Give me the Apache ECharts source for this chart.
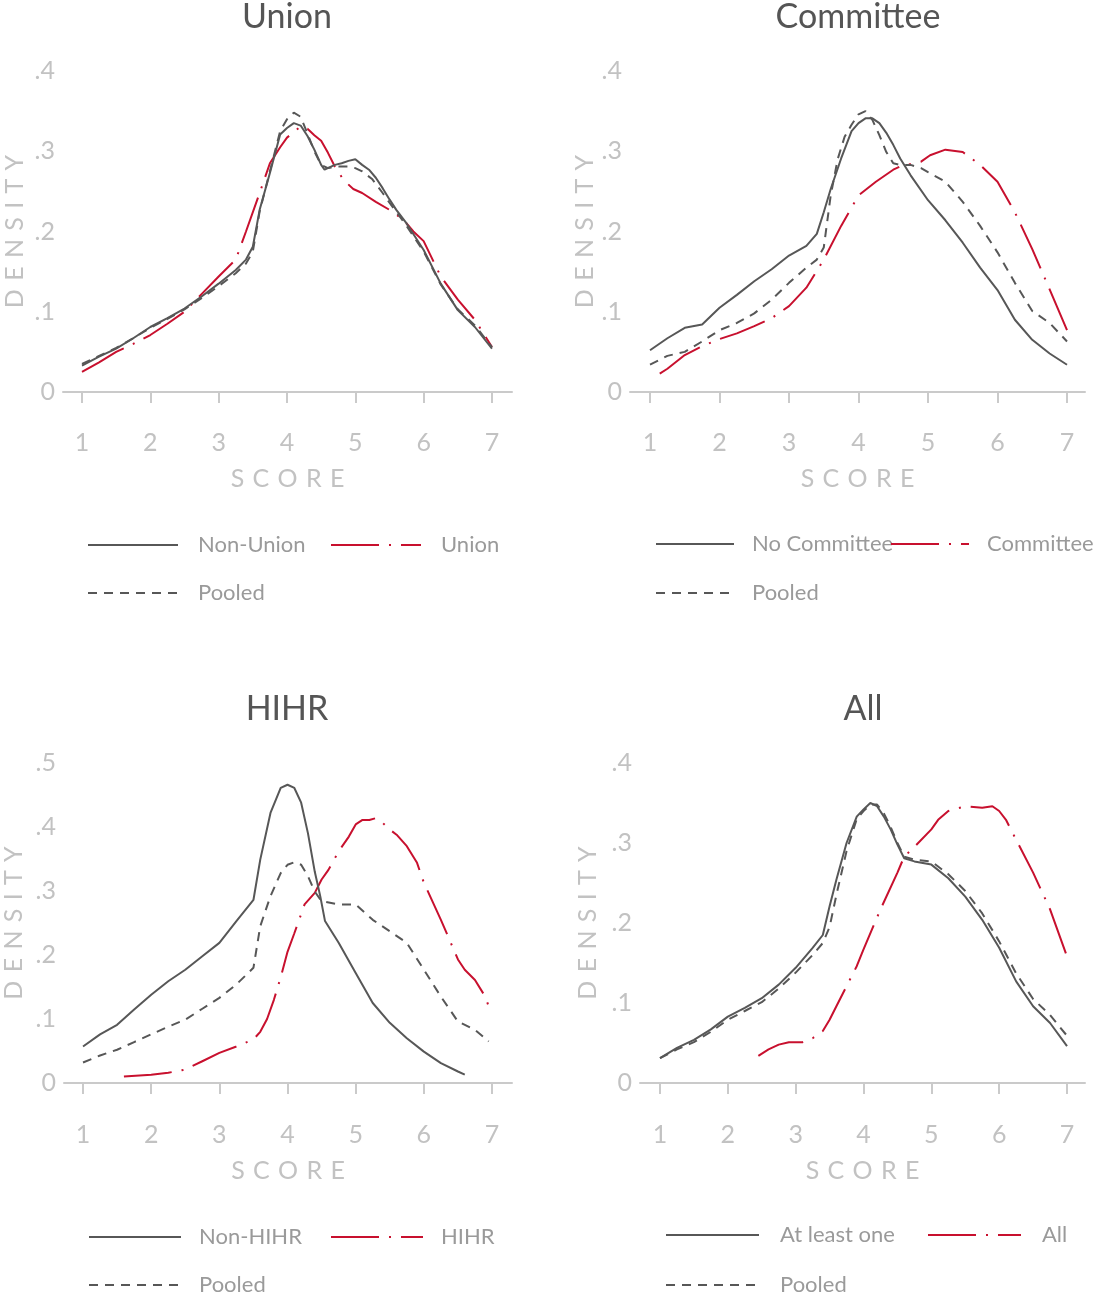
<!DOCTYPE html>
<html>
<head>
<meta charset="utf-8">
<script src="https://cdn.jsdelivr.net/npm/echarts@6/dist/echarts.min.js"></script>
<style>
  html, body { margin: 0; background: #fff; }
  #chart { width: 1094px; height: 1297px; }
</style>
</head>
<body>
<div id="chart"></div>
<script>
// x ticks shared by every panel
var scoreTicks = [1, 2, 3, 4, 5, 6, 7];

// Union panel
var unionNonUnion = [[1,0.033],[1.25,0.044],[1.5,0.054],[1.75,0.067],[2,0.081],[2.25,0.092],[2.5,0.104],[2.75,0.119],[3,0.135],[3.25,0.152],[3.4,0.165],[3.5,0.181],[3.6,0.227],[3.75,0.273],[3.9,0.321],[4,0.329],[4.1,0.335],[4.2,0.332],[4.3,0.319],[4.4,0.302],[4.5,0.283],[4.55,0.277],[4.7,0.283],[4.8,0.285],[4.9,0.288],[5,0.290],[5.1,0.283],[5.2,0.277],[5.3,0.267],[5.4,0.254],[5.5,0.240],[5.6,0.227],[5.75,0.210],[6,0.177],[6.25,0.135],[6.5,0.102],[6.75,0.081],[7,0.054]];
var unionUnion = [[1,0.025],[1.25,0.037],[1.5,0.050],[1.75,0.060],[2,0.071],[2.25,0.085],[2.5,0.100],[2.75,0.122],[3,0.144],[3.25,0.165],[3.4,0.200],[3.6,0.248],[3.75,0.285],[3.9,0.305],[4,0.317],[4.2,0.331],[4.3,0.328],[4.4,0.320],[4.5,0.313],[4.6,0.298],[4.7,0.281],[4.83,0.264],[4.97,0.253],[5.1,0.248],[5.3,0.237],[5.5,0.227],[5.7,0.215],[5.85,0.200],[6,0.188],[6.25,0.144],[6.5,0.115],[6.75,0.090],[7,0.056]];
var unionPooled = [[1,0.035],[1.25,0.045],[1.5,0.055],[1.75,0.067],[2,0.080],[2.25,0.091],[2.5,0.103],[2.75,0.117],[3,0.132],[3.25,0.148],[3.4,0.160],[3.5,0.175],[3.6,0.225],[3.75,0.275],[3.9,0.325],[4,0.340],[4.1,0.348],[4.2,0.343],[4.3,0.322],[4.4,0.300],[4.5,0.283],[4.6,0.279],[4.75,0.281],[4.9,0.281],[5,0.279],[5.1,0.275],[5.25,0.265],[5.4,0.248],[5.5,0.236],[5.75,0.207],[6,0.175],[6.25,0.134],[6.5,0.103],[6.75,0.083],[7,0.056]];

// Committee panel
var commNo = [[1,0.052],[1.25,0.067],[1.5,0.080],[1.75,0.084],[2,0.105],[2.25,0.121],[2.5,0.138],[2.75,0.153],[3,0.170],[3.25,0.182],[3.4,0.197],[3.5,0.224],[3.6,0.253],[3.75,0.291],[3.9,0.325],[4,0.335],[4.1,0.341],[4.2,0.341],[4.3,0.335],[4.4,0.323],[4.5,0.308],[4.6,0.291],[4.75,0.270],[5,0.239],[5.25,0.214],[5.5,0.186],[5.75,0.155],[6,0.127],[6.25,0.090],[6.5,0.065],[6.75,0.048],[7,0.034]];
var commYes = [[1.14,0.023],[1.25,0.029],[1.5,0.046],[1.75,0.057],[2,0.066],[2.25,0.073],[2.5,0.082],[2.75,0.092],[3,0.107],[3.25,0.130],[3.5,0.165],[3.75,0.207],[4,0.245],[4.25,0.262],[4.5,0.277],[4.6,0.281],[4.9,0.287],[5.03,0.295],[5.25,0.302],[5.5,0.299],[5.75,0.283],[6,0.262],[6.25,0.224],[6.5,0.178],[6.75,0.128],[7,0.077]];
var commPooled = [[1,0.034],[1.25,0.045],[1.5,0.050],[1.75,0.063],[2,0.077],[2.25,0.086],[2.5,0.098],[2.75,0.115],[3,0.136],[3.25,0.155],[3.4,0.165],[3.5,0.180],[3.6,0.245],[3.7,0.290],[3.8,0.318],[3.9,0.333],[4,0.346],[4.1,0.350],[4.2,0.339],[4.3,0.320],[4.4,0.299],[4.5,0.285],[4.6,0.283],[4.75,0.283],[4.9,0.279],[5,0.274],[5.25,0.262],[5.5,0.237],[5.75,0.207],[6,0.174],[6.25,0.136],[6.5,0.101],[6.75,0.086],[7,0.063]];

// HIHR panel
var hihrNon = [[1,0.057],[1.25,0.076],[1.5,0.091],[1.75,0.115],[2,0.138],[2.25,0.159],[2.5,0.177],[2.75,0.198],[3,0.219],[3.25,0.253],[3.5,0.286],[3.6,0.349],[3.75,0.422],[3.9,0.461],[4,0.466],[4.1,0.461],[4.2,0.438],[4.3,0.390],[4.4,0.330],[4.48,0.292],[4.55,0.253],[4.75,0.219],[5,0.172],[5.25,0.125],[5.5,0.094],[5.75,0.070],[6,0.049],[6.25,0.031],[6.5,0.018],[6.6,0.013]];
var hihrYes = [[1.6,0.010],[2,0.013],[2.25,0.016],[2.5,0.021],[2.75,0.034],[3,0.047],[3.25,0.057],[3.5,0.068],[3.6,0.080],[3.7,0.100],[3.8,0.130],[3.9,0.165],[4,0.205],[4.1,0.234],[4.25,0.279],[4.4,0.297],[4.5,0.318],[4.6,0.333],[4.75,0.362],[4.9,0.385],[5,0.404],[5.1,0.411],[5.2,0.411],[5.3,0.414],[5.4,0.406],[5.5,0.396],[5.6,0.388],[5.75,0.370],[5.9,0.344],[6,0.313],[6.25,0.255],[6.5,0.193],[6.6,0.177],[6.75,0.161],[6.9,0.135],[6.95,0.120]];
var hihrPooled = [[1,0.032],[1.25,0.043],[1.5,0.052],[1.75,0.064],[2,0.076],[2.25,0.088],[2.5,0.099],[2.75,0.116],[3,0.133],[3.25,0.154],[3.5,0.180],[3.6,0.245],[3.75,0.292],[3.9,0.328],[4,0.341],[4.1,0.345],[4.2,0.341],[4.3,0.323],[4.4,0.299],[4.5,0.284],[4.75,0.279],[5,0.279],[5.25,0.255],[5.5,0.237],[5.75,0.219],[6,0.177],[6.25,0.135],[6.5,0.096],[6.75,0.083],[6.95,0.065]];

// All panel
var allOne = [[1,0.031],[1.25,0.044],[1.5,0.054],[1.75,0.067],[2,0.083],[2.25,0.094],[2.5,0.106],[2.75,0.123],[3,0.144],[3.25,0.169],[3.4,0.185],[3.5,0.221],[3.6,0.254],[3.75,0.300],[3.9,0.333],[4,0.342],[4.1,0.350],[4.2,0.346],[4.3,0.333],[4.4,0.317],[4.5,0.298],[4.6,0.281],[4.75,0.277],[5,0.273],[5.25,0.256],[5.5,0.233],[5.75,0.204],[6,0.169],[6.25,0.127],[6.5,0.096],[6.75,0.075],[7,0.046]];
var allAll = [[2.45,0.034],[2.6,0.042],[2.75,0.048],[2.9,0.051],[3.1,0.051],[3.25,0.056],[3.4,0.065],[3.5,0.079],[3.6,0.096],[3.75,0.121],[3.9,0.146],[4,0.167],[4.25,0.217],[4.5,0.263],[4.6,0.283],[4.75,0.295],[5,0.317],[5.1,0.329],[5.25,0.340],[5.5,0.346],[5.75,0.344],[5.9,0.346],[6,0.340],[6.1,0.329],[6.25,0.304],[6.5,0.263],[6.75,0.217],[7,0.158]];
var allPooled = [[1,0.031],[1.25,0.042],[1.5,0.051],[1.75,0.064],[2,0.079],[2.25,0.090],[2.5,0.101],[2.75,0.118],[3,0.138],[3.25,0.160],[3.4,0.175],[3.5,0.195],[3.6,0.235],[3.75,0.290],[3.9,0.330],[4,0.340],[4.1,0.348],[4.2,0.348],[4.3,0.337],[4.4,0.320],[4.5,0.300],[4.6,0.283],[4.75,0.279],[5,0.277],[5.25,0.261],[5.5,0.240],[5.75,0.212],[6,0.177],[6.25,0.137],[6.5,0.105],[6.75,0.085],[7,0.059]];

var GRAY = '#575757';
var RED = '#c8102e';
var AXIS = '#cacaca';
var LABEL = '#c2c2c2';
var FONT = 'Lato';
var DASH = [9, 7];
var DASHDOT = [48, 10, 2, 10];
var SP = '\u2004'; // spaced-out axis titles

var panels = [
  { title: 'Union', tx: 287, ty: 0, left: 63, top: 71, width: 449, height: 321, xmin: 0.722, xmax: 7.293, ymax: 0.4, offset: 15, nameGap: 36,
    lx: [87, 330, 87], ly: [545, 545, 593], iconW: 90, pad: 15,
    names: ['Non-Union', 'Union', 'Pooled'], data: [unionNonUnion, unionUnion, unionPooled] },
  { title: 'Committee', tx: 858, ty: 0, left: 630, top: 71, width: 455, height: 321, xmin: 0.712, xmax: 7.259, ymax: 0.4, offset: 15, nameGap: 30,
    lx: [655, 890, 655], ly: [544, 544, 593], iconW: 78, pad: 13,
    names: ['No Committee', 'Committee', 'Pooled'], data: [commNo, commYes, commPooled] },
  { title: 'HIHR', tx: 287, ty: 692, left: 64, top: 763, width: 448, height: 320, xmin: 0.721, xmax: 7.293, ymax: 0.5, offset: 16, nameGap: 38,
    lx: [88, 330, 88], ly: [1237, 1237, 1285], iconW: 92, pad: 13,
    names: ['Non-HIHR', 'HIHR', 'Pooled'], data: [hihrNon, hihrYes, hihrPooled] },
  { title: 'All', tx: 863, ty: 692, left: 640, top: 763, width: 445, height: 320, xmin: 0.705, xmax: 7.265, ymax: 0.4, offset: 16, nameGap: 40,
    lx: [665, 927, 665], ly: [1235, 1235, 1285], iconW: 93, pad: 16,
    names: ['At least one', 'All', 'Pooled'], data: [allOne, allAll, allPooled] }
];

var styles = [
  { color: GRAY, type: 'solid', z: 3 },
  { color: RED, type: DASHDOT, z: 2 },
  { color: GRAY, type: DASH, z: 3 }
];

var option = { animation: false, backgroundColor: '#fff', title: [], grid: [], xAxis: [], yAxis: [], legend: [], series: [] };

panels.forEach(function (p, i) {
  option.title.push({
    text: p.title, left: p.tx, top: p.ty, textAlign: 'center', padding: 0,
    textStyle: { fontFamily: FONT, fontSize: 34, fontWeight: 'normal', color: '#555' }
  });
  option.grid.push({ left: p.left, top: p.top, width: p.width, height: p.height, containLabel: false });
  option.xAxis.push({
    gridIndex: i, type: 'value', min: p.xmin, max: p.xmax, offset: p.offset,
    name: 'SCORE'.split('').join(SP), nameLocation: 'middle', nameGap: 59,
    nameTextStyle: { fontFamily: FONT, fontSize: 25, color: LABEL },
    axisLine: { show: true, lineStyle: { color: AXIS, width: 2 } },
    axisTick: { show: true, customValues: scoreTicks, length: 11, lineStyle: { color: AXIS, width: 2 } },
    axisLabel: { customValues: scoreTicks, margin: 23, fontFamily: FONT, fontSize: 25, color: LABEL },
    splitLine: { show: false }
  });
  option.yAxis.push({
    gridIndex: i, type: 'value', min: 0, max: p.ymax, interval: 0.1,
    name: 'DENSITY'.split('').join(SP), nameLocation: 'middle', nameGap: p.nameGap, nameRotate: 90,
    nameTextStyle: { fontFamily: FONT, fontSize: 25, color: LABEL },
    axisLine: { show: false }, axisTick: { show: false }, splitLine: { show: false },
    axisLabel: {
      margin: 8, fontFamily: FONT, fontSize: 25, color: LABEL,
      formatter: function (v) { return v === 0 ? '0' : v.toFixed(1).replace(/^0/, ''); }
    }
  });
  p.names.forEach(function (name, k) {
    var s = styles[k];
    option.series.push({
      name: name, type: 'line', xAxisIndex: i, yAxisIndex: i, data: p.data[k],
      symbol: 'none', smooth: false, z: s.z,
      lineStyle: { color: s.color, width: 2, type: s.type },
      itemStyle: { color: s.color }
    });
    option.legend.push({
      data: [name], left: p.lx[k], top: p.ly[k] - 12, padding: 0,
      itemWidth: p.iconW, itemHeight: 2, selectedMode: false,
      itemStyle: { opacity: 0 },
      textStyle: { fontFamily: FONT, fontSize: 22, color: '#9a9a9a', lineHeight: 24, padding: [0, 0, 0, p.pad] }
    });
  });
});

var chart = echarts.init(document.getElementById('chart'), null, { renderer: 'canvas' });
chart.setOption(option);
window.addEventListener('resize', function () { chart.resize(); });
</script>
</body>
</html>
